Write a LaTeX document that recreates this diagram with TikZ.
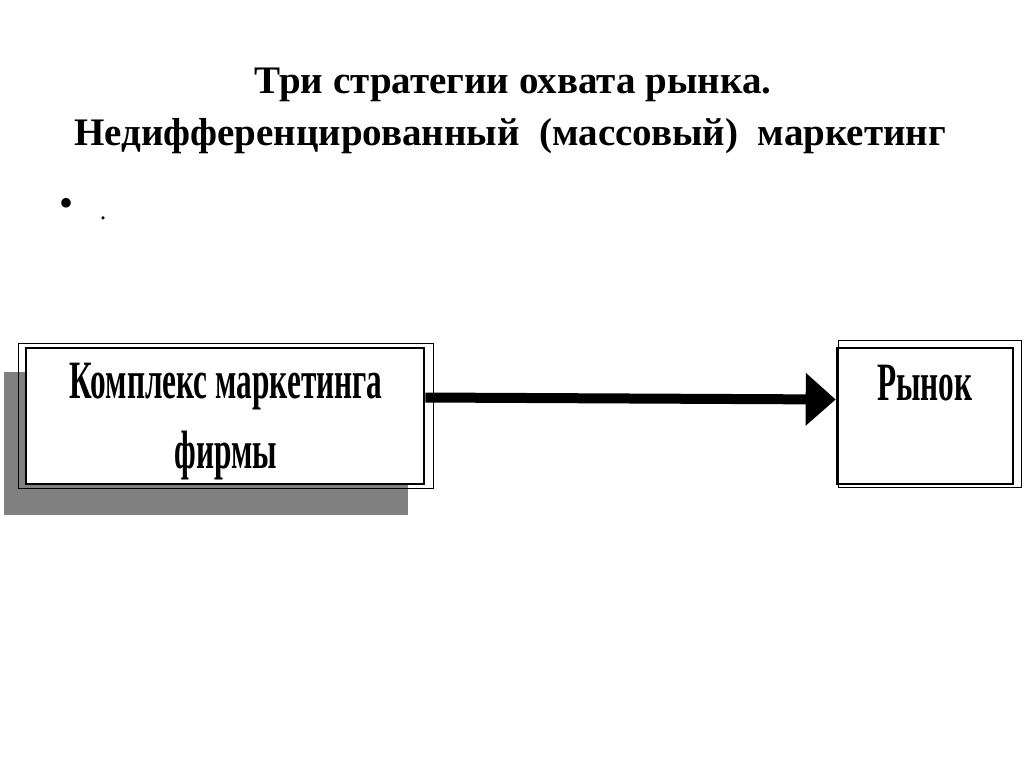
\documentclass[tikz,border=0pt]{standalone}
\usepackage{fontspec}
\setmainfont{Liberation Serif}
\newfontfamily\boxfont[FakeStretch=0.58]{Liberation Serif}
\usepackage{tikz}
\usetikzlibrary{arrows.meta,positioning}
\definecolor{shadowgray}{RGB}{128,128,128}
\tikzset{
    frame/.style={rectangle,draw,fill=white,line width=2.6pt},
    outer/.style={draw,line width=1.2pt},
    titletext/.style={font=\fontsize{39}{44}\selectfont\bfseries,inner sep=0pt},
    boxtext/.style={font=\boxfont\fontsize{54}{60}\selectfont\bfseries,inner sep=0pt},
    pre/.style={-{Triangle[length=30pt,width=51pt]},line width=10pt}
}

\begin{document}
\begin{tikzpicture}[x=1pt,y=-1pt]

                \path[use as bounding box,fill=white] (0,0) rectangle (1024,768);

                \node[titletext,anchor=base] (title 1) at (513,93)  {Три стратегии охвата рынка.};
                \node[titletext,anchor=base] (title 2) at (510,145) {Недифференцированный \ (массовый) \ маркетинг};

                \node[font=\fontsize{40}{44}\selectfont,inner sep=0pt] (bullet) at (67,207) {•};
                \node[font=\fontsize{26}{30}\selectfont,inner sep=0pt,anchor=base] (dot) at (103,219) {.};

                \fill[shadowgray] (4,372) rectangle (408,515);

                \node[frame,minimum width=398pt,minimum height=136pt] (complex) at (225,416) {};
                \draw[outer] ([xshift=-6pt,yshift=3pt]complex.north west) rectangle ([xshift=8pt,yshift=-3pt]complex.south east);
                \node[boxtext,anchor=base] (complex 1) at (226,398) {Комплекс маркетинга};
                \node[boxtext,anchor=base] (complex 2) at (226,468) {фирмы};

                \node[frame,minimum width=176pt,minimum height=136pt] (market) at (925,416) {};
                \draw[outer] ([xshift=3pt,yshift=6pt]market.north west) rectangle ([xshift=7pt,yshift=-2pt]market.south east);
                \node[boxtext,anchor=base] (market 1) at (925,400) {Рынок};

                \draw[pre] ([yshift=18.5pt]complex.east) -- ([yshift=16.5pt]market.west);

            \end{tikzpicture}
\end{document}
